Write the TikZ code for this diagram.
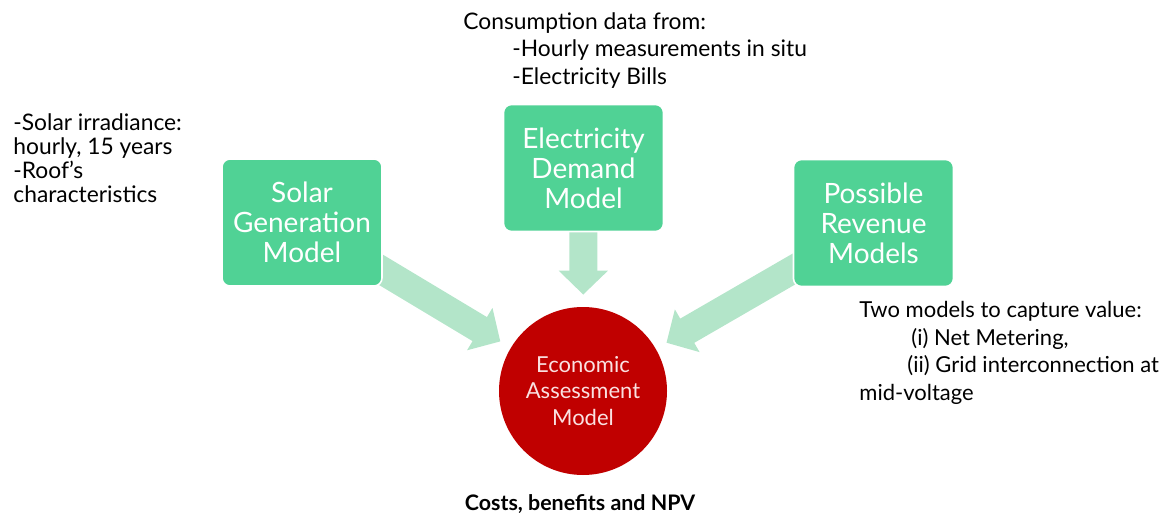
\documentclass[tikz,border=0pt]{standalone}
\usepackage{fontspec}
\setmainfont{Lato}
\usetikzlibrary{arrows.meta, backgrounds}

\definecolor{boxgreen}{RGB}{80,210,149}
\definecolor{feedgreen}{RGB}{179,229,201}
\definecolor{econred}{RGB}{192,0,0}
\definecolor{econtext}{RGB}{250,225,225}

\tikzset{
  model/.style={draw=white, line width=0.8pt, fill=boxgreen, rounded corners=4pt,
    minimum width=80pt, minimum height=63.5pt, inner sep=0pt, align=center,
    text=white, font=\fontsize{14}{15}\selectfont},
  econ/.style={circle, fill=econred, minimum size=84pt, inner sep=0pt, align=center,
    text=econtext, font=\fontsize{11}{13.25}\selectfont},
  feed/.style={feedgreen, line width=14pt, -{Triangle[width=24pt, length=12pt]},
    shorten >=6pt},
  note/.style={inner sep=0pt, align=left, anchor=north west},
}

\begin{document}
\begin{tikzpicture}[x=0.5pt, y=-0.5pt]
  \useasboundingbox (0,0) rectangle (1162,519);

  % the three inputs and the assessment
  \node[model] (solar) at (302,222.5) {Solar\\Generation\\Model};
  \node[model] (demand) at (583.5,168) {Electricity\\Demand\\Model};
  \node[model] (revenue) at (873.5,223) {Possible\\Revenue\\Models};
  \node[econ] (econ) at (583,391) {Economic\\Assessment\\Model};

  % wide arrows into the circle
  \begin{scope}[on background layer]
    \foreach \src in {solar, demand, revenue}
      \draw[feed] (\src.center) -- (econ);
  \end{scope}

  % side notes
  \node[note, font=\fontsize{11.4}{12}\selectfont] (solarnote) at (13,113)
    {-Solar irradiance:\\hourly, 15 years\\-Roof’s\\characteristics};
  \node[note, font=\fontsize{11.4}{13.75}\selectfont] (demandnote) at (463,12)
    {Consumption data from:\\\hspace*{24.5pt}-Hourly measurements in situ\\\hspace*{24.5pt}-Electricity Bills};
  \node[note, font=\fontsize{11}{13.75}\selectfont] (revenuenote) at (859,301)
    {Two models to capture value:\\\hspace*{26pt}(i) Net Metering,\\\hspace*{24pt}(ii) Grid interconnection at\\mid-voltage};
  \node[font=\bfseries\fontsize{10.7}{12}\selectfont, anchor=base] (result) at (580,510)
    {Costs, benefits and NPV};
\end{tikzpicture}
\end{document}
